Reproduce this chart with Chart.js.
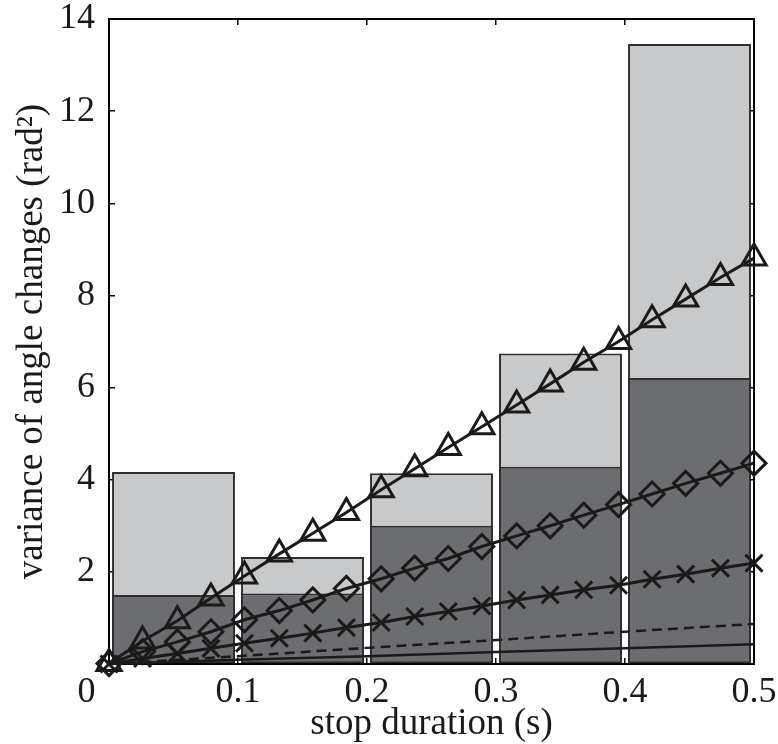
<!DOCTYPE html>
<html>
<head>
<meta charset="utf-8">
<script src="https://cdn.jsdelivr.net/npm/chart.js@4.4.0/dist/chart.umd.min.js"></script>
<style>
  html, body { margin: 0; padding: 0; background: #fff; }
  canvas { display: block; }
</style>
</head>
<body>
<canvas id="chart" width="778" height="744"></canvas>
<script>
// Bins of stop duration (bin centres, s) and the measured variances
const binCentres = [0.05, 0.15, 0.25, 0.35, 0.45];
const totalVariance = [4.17, 2.32, 4.14, 6.74, 13.46];
const partVariance = [1.50, 1.53, 3.00, 4.28, 6.21];

// Model curves sampled at 20 durations
const modelX = [0, 0.026, 0.053, 0.079, 0.105, 0.132, 0.158, 0.184, 0.211, 0.237,
  0.263, 0.289, 0.316, 0.342, 0.368, 0.395, 0.421, 0.447, 0.474, 0.5];
const triangleY = [0.01, 0.50, 0.94, 1.43, 1.91, 2.39, 2.84, 3.29, 3.78, 4.24,
  4.70, 5.15, 5.62, 6.08, 6.55, 7.00, 7.47, 7.92, 8.39, 8.81];
const diamondY = [0.01, 0.27, 0.48, 0.70, 0.96, 1.16, 1.39, 1.64, 1.85, 2.08,
  2.29, 2.55, 2.78, 3.00, 3.23, 3.46, 3.69, 3.92, 4.14, 4.36];
const crossY = [0, 0.12, 0.23, 0.34, 0.45, 0.56, 0.67, 0.79, 0.90, 1.03,
  1.14, 1.26, 1.39, 1.50, 1.61, 1.71, 1.84, 1.95, 2.08, 2.19];

// Straight reference lines (no markers)
const lineX = [0, 0.1, 0.2, 0.3, 0.4, 0.5];
const dashedY = [0, 0.17, 0.35, 0.52, 0.70, 0.87];
const solidY = [0, 0.09, 0.17, 0.26, 0.34, 0.43];

const xTickLabels = ['0', '0.1', '0.2', '0.3', '0.4', '0.5'];
const yTickLabels = ['', '2', '4', '6', '8', '10', '12', '14'];

const pts = (xs, ys) => xs.map((x, i) => ({ x, y: ys[i] }));

Chart.defaults.font.family = '"Liberation Serif", "Times New Roman", serif';
Chart.defaults.color = '#1a1a1a';

const INK = '#1a1a1a';
const tickFont = { size: 36, lineHeight: 1 };
const titleFont = { size: 37, lineHeight: 1 };
// MATLAB-style inward tick marks, no grid on the plot area
const boxGrid = { display: true, drawOnChartArea: false, drawTicks: true, tickLength: -6, color: '#000', lineWidth: 1.5, offset: false };
const boxBorder = { display: true, color: '#000', width: 2 };

function modelLine(data, style, radius) {
  return {
    type: 'line',
    data,
    order: 0,
    borderColor: INK,
    borderWidth: 3,
    pointStyle: style,
    pointRadius: radius,
    pointBorderWidth: 3,
    pointBorderColor: INK,
    pointBackgroundColor: 'rgba(0,0,0,0)',
    tension: 0,
    clip: false,
  };
}

// fixed axis boxes; label overflow must not shrink the plot area
function fixHeight(h) {
  return (s) => { s.height = h; s.paddingLeft = 0; s.paddingRight = 0; };
}
function fixWidth(w) {
  return (s) => { s.width = w; s.paddingTop = 0; s.paddingBottom = 0; };
}

new Chart(document.getElementById('chart'), {
  type: 'bar',
  data: {
    datasets: [
      modelLine(pts(modelX, triangleY), 'triangle', 14),
      modelLine(pts(modelX, diamondY), 'rectRot', 12),
      modelLine(pts(modelX, crossY), 'crossRot', 12),
      {
        type: 'line',
        data: pts(lineX, dashedY),
        order: 0,
        borderColor: INK,
        borderWidth: 2.5,
        borderDash: [10, 6],
        pointRadius: 0,
        clip: false,
      },
      {
        type: 'line',
        data: pts(lineX, solidY),
        order: 0,
        borderColor: INK,
        borderWidth: 2.5,
        pointRadius: 0,
        clip: false,
      },
      {
        type: 'bar',
        data: pts(binCentres, partVariance),
        order: 1,
        grouped: false,
        backgroundColor: '#6c6d71',
        borderColor: '#2e2e2e',
        borderWidth: 2,
        borderSkipped: false,
        categoryPercentage: 1,
        barPercentage: 0.953,
      },
      {
        type: 'bar',
        data: pts(binCentres, totalVariance),
        order: 2,
        grouped: false,
        backgroundColor: '#c8c9cb',
        borderColor: '#2e2e2e',
        borderWidth: 2,
        borderSkipped: false,
        categoryPercentage: 1,
        barPercentage: 0.953,
      },
    ],
  },
  options: {
    responsive: false,
    animation: false,
    devicePixelRatio: 1,
    layout: { padding: { top: 19, right: 24, bottom: 0, left: 0 } },
    plugins: { legend: { display: false }, tooltip: { enabled: false } },
    scales: {
      x: {
        type: 'linear',
        position: 'bottom',
        min: 0,
        max: 0.5,
        offset: false,
        grid: boxGrid,
        border: boxBorder,
        ticks: {
          stepSize: 0.1,
          maxRotation: 0,
          autoSkip: false,
          padding: 17,
          font: tickFont,
          color: INK,
          // the "0" sits left of the corner in the original figure
          callback: (v, i) => (i === 0 ? xTickLabels[0] + '     ' : xTickLabels[i]),
        },
        title: { display: true, text: 'stop duration (s)', font: titleFont, color: INK, padding: { top: 0, bottom: 1 } },
        afterFit: fixHeight(80),
      },
      xTop: {
        type: 'linear',
        position: 'top',
        min: 0,
        max: 0.5,
        offset: false,
        grid: boxGrid,
        border: boxBorder,
        ticks: { display: false, stepSize: 0.1 },
        afterFit: fixHeight(0),
      },
      y: {
        type: 'linear',
        position: 'left',
        min: 0,
        max: 14,
        grid: boxGrid,
        border: boxBorder,
        ticks: {
          stepSize: 2,
          padding: 20,
          font: tickFont,
          color: INK,
          callback: (v, i) => yTickLabels[i],
        },
        title: { display: true, text: 'variance of angle changes (rad²)', font: titleFont, color: INK, padding: { top: 14, bottom: 0 } },
        afterFit: fixWidth(109),
      },
      yRight: {
        type: 'linear',
        position: 'right',
        min: 0,
        max: 14,
        grid: boxGrid,
        border: boxBorder,
        ticks: { display: false, stepSize: 2 },
        afterFit: fixWidth(0),
      },
    },
  },
});
</script>
</body>
</html>
